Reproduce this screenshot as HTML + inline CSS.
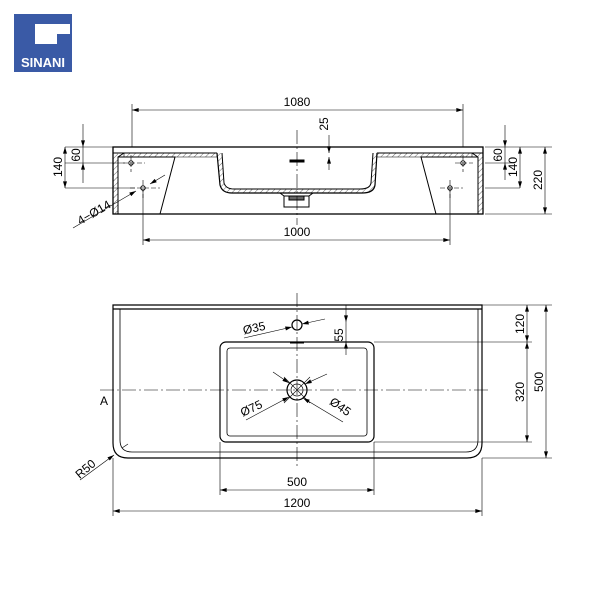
<!DOCTYPE html>
<html><head><style>body{margin:0;background:#fff}svg{display:block}text{font-family:"Liberation Sans",sans-serif;font-size:12px;fill:#000}</style></head><body>
<svg width="600" height="600" viewBox="0 0 600 600" xmlns="http://www.w3.org/2000/svg">
<defs>
<marker id="a" viewBox="0 0 10 6" refX="10" refY="3" markerWidth="10" markerHeight="4" orient="auto-start-reverse" markerUnits="userSpaceOnUse"><path d="M0,0L10,3L0,6z" fill="#000"/></marker>
<pattern id="h" width="4" height="4" patternUnits="userSpaceOnUse" patternTransform="rotate(45)"><line x1="0" y1="0" x2="0" y2="4" stroke="#000" stroke-width="0.6"/></pattern>
</defs>
<!-- logo -->
<rect x="14" y="14" width="58" height="58" fill="#3a5aa6"/>
<path d="M35,24H70V34H57V44H35Z" fill="#fff"/>
<text x="43" y="67" text-anchor="middle" style="font-size:13px;font-weight:bold;fill:#fff">SINANI</text>

<g fill="none" stroke="#000" stroke-width="1">
<rect x="113" y="147" width="370" height="67" stroke-width="1.3"/>
<path d="M113,153H217M377,153H483" />
<path d="M118,214V157L124,153M478,214V157L472,153"/>
<rect x="113" y="153" width="5" height="61" fill="url(#h)" stroke="none"/>
<rect x="478" y="153" width="5" height="61" fill="url(#h)" stroke="none"/>
<path d="M118,157H175L160,214M478,157H421L436,214"/>
<path d="M124,153H217V157H124ZM377,153H472V157H377Z" fill="url(#h)" stroke-width="0.6"/>
<path d="M217,153L220,185Q222,193 232,193H362Q374,193 375,185L377,153" stroke-width="1.2"/>
<path d="M222,153L224,183Q226,189 234,189H360Q370,189 371,183L373,153" />
<path d="M220,185Q222,193 232,193H362Q374,193 375,185L377,153H373L371,183Q370,189 360,189H234Q226,189 224,183L222,153H217Z" fill="url(#h)" stroke="none"/>
<rect x="284" y="196" width="25" height="11"/>
<rect x="289" y="196" width="15" height="4" fill="#666"/>
<path d="M280,193L284,196M313,193L309,196"/>
<rect x="290" y="160" width="14" height="2" fill="#000"/>
<circle cx="131" cy="163" r="2.2"/><circle cx="143" cy="188" r="2.2"/>
<circle cx="463" cy="163" r="2.2"/><circle cx="450" cy="188" r="2.2"/>
</g>
<g fill="none" stroke="#000" stroke-width="0.6">
<path d="M297,130V225" stroke-dasharray="14,3,2,3"/>
<path d="M123,163H145M131,155V172M455,163H473M463,155V172M130,188H160M143,180V198M440,188H463M450,180V198" stroke-dasharray="5,2"/>
<path d="M132,147V104M463,147V104M143,190V245M450,190V245"/>
<line x1="132" y1="110" x2="463" y2="110" marker-start="url(#a)" marker-end="url(#a)"/>
<line x1="143" y1="240" x2="450" y2="240" marker-start="url(#a)" marker-end="url(#a)"/>
<path d="M65,147H113M65,163H125M65,188H135M485,163H515M485,188H520M485,147H552M485,214H552"/>
<line x1="83" y1="124" x2="83" y2="147" marker-end="url(#a)"/><line x1="83" y1="183" x2="83" y2="163" marker-end="url(#a)"/>
<line x1="83" y1="147" x2="83" y2="163"/>
<line x1="65" y1="147" x2="65" y2="188" marker-start="url(#a)" marker-end="url(#a)"/>
<line x1="505" y1="125" x2="505" y2="147" marker-end="url(#a)"/><line x1="505" y1="147" x2="505" y2="163"/><line x1="505" y1="180" x2="505" y2="163" marker-end="url(#a)"/>
<line x1="520" y1="147" x2="520" y2="188" marker-start="url(#a)" marker-end="url(#a)"/>
<line x1="545" y1="147" x2="545" y2="214" marker-start="url(#a)" marker-end="url(#a)"/>
<line x1="329" y1="135" x2="329" y2="153" marker-end="url(#a)"/><line x1="329" y1="170" x2="329" y2="157" marker-end="url(#a)"/>
<line x1="73" y1="228" x2="136" y2="191" marker-end="url(#a)"/><line x1="165" y1="175" x2="150" y2="184" marker-end="url(#a)"/>
</g>
<text x="297" y="106" text-anchor="middle">1080</text>
<text x="297" y="236" text-anchor="middle">1000</text>
<text transform="translate(328,124) rotate(-90)" text-anchor="middle">25</text>
<text transform="translate(80,155) rotate(-90)" text-anchor="middle">60</text>
<text transform="translate(62,167) rotate(-90)" text-anchor="middle">140</text>
<text transform="translate(502,155) rotate(-90)" text-anchor="middle">60</text>
<text transform="translate(517,167) rotate(-90)" text-anchor="middle">140</text>
<text transform="translate(542,180) rotate(-90)" text-anchor="middle">220</text>
<text transform="translate(96,216) rotate(-30)" text-anchor="middle">4−Ø14</text>

<g fill="none" stroke="#000" stroke-width="1.2">
<path d="M113,305H482V443Q482,458 467,458H128Q113,458 113,443Z"/>
<path d="M120,309H478V440Q478,452 466,452H132Q120,452 120,440Z" stroke-width="0.8"/>
<path d="M113,309H482"/>
<rect x="220" y="342" width="154" height="100" rx="6"/>
<rect x="227" y="348" width="140" height="88" rx="3" stroke-width="0.8"/>
<circle cx="297" cy="390" r="10"/><circle cx="297" cy="390" r="6" stroke-width="0.7"/>
<circle cx="297" cy="325" r="5"/>
<rect x="290" y="342" width="14" height="1.5" fill="#000" stroke="none"/>
</g>
<g fill="none" stroke="#000" stroke-width="0.6">
<path d="M100,390H490" stroke-dasharray="14,3,2,3"/>
<path d="M297,293V468" stroke-dasharray="14,3,2,3"/>
<path d="M284,377L310,403M310,377L284,403"/>
<path d="M374,342H532M374,442H532M482,305H552M482,458H552M220,442V495M374,442V495M113,458V516M482,458V516"/>
<line x1="527" y1="305" x2="527" y2="342" marker-start="url(#a)" marker-end="url(#a)"/>
<line x1="527" y1="342" x2="527" y2="442" marker-start="url(#a)" marker-end="url(#a)"/>
<line x1="546" y1="305" x2="546" y2="458" marker-start="url(#a)" marker-end="url(#a)"/>
<line x1="220" y1="490" x2="374" y2="490" marker-start="url(#a)" marker-end="url(#a)"/>
<line x1="113" y1="511" x2="482" y2="511" marker-start="url(#a)" marker-end="url(#a)"/>
<line x1="346" y1="305" x2="346" y2="322" marker-end="url(#a)"/><line x1="346" y1="355" x2="346" y2="342" marker-end="url(#a)"/><line x1="346" y1="322" x2="346" y2="342"/>
<line x1="244" y1="338" x2="292" y2="327" marker-end="url(#a)"/><line x1="325" y1="319" x2="302" y2="324" marker-end="url(#a)"/>
<line x1="246" y1="420" x2="289" y2="397" marker-end="url(#a)"/><line x1="273" y1="372" x2="289" y2="383" marker-end="url(#a)"/>
<line x1="343" y1="422" x2="303" y2="398" marker-end="url(#a)"/><line x1="327" y1="374" x2="305" y2="384" marker-end="url(#a)"/>
<line x1="80" y1="480" x2="114" y2="455" marker-end="url(#a)"/><path d="M122,448L128,444"/>
</g>
<text transform="translate(255,332) rotate(-12)" text-anchor="middle">Ø35</text>
<text transform="translate(343,335) rotate(-90)" text-anchor="middle">55</text>
<text transform="translate(253,412) rotate(-25)" text-anchor="middle">Ø75</text>
<text transform="translate(338,410) rotate(35)" text-anchor="middle">Ø45</text>
<text transform="translate(524,324) rotate(-90)" text-anchor="middle">120</text>
<text transform="translate(524,392) rotate(-90)" text-anchor="middle">320</text>
<text transform="translate(543,382) rotate(-90)" text-anchor="middle">500</text>
<text x="297" y="486" text-anchor="middle">500</text>
<text x="297" y="507" text-anchor="middle">1200</text>
<text x="100" y="405">A</text>
<text transform="translate(88,472) rotate(-40)" text-anchor="middle">R50</text>
</svg>
</body></html>
